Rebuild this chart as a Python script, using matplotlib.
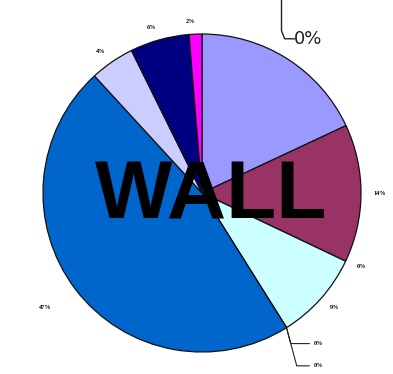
import numpy as np
import matplotlib.pyplot as plt

values = [18, 14, 0, 9, 0, 0, 47, 4.5, 6, 1.3]
labels = ['', '14%', '0%', '9%', '', '', '47%', '4%', '6%', '2%']
colors = ['#9999FF', '#993366', '#CCFFFF', '#CCFFFF', '#0066CC', '#0066CC',
          '#0066CC', '#CCCCFF', '#000080', '#FF00FF']
leader_labels = ['0%', '0%']
top_labels = ['0%', '0%']

fig = plt.figure(figsize=(3.93, 3.74), dpi=100)
W, H = 393, 374
cx, cy, r = 202, 193, 159
ax = fig.add_axes([(cx - r) / W, (H - cy - r) / H, 2 * r / W, 2 * r / H])

wedges, texts = ax.pie(values, labels=labels, colors=colors, startangle=90,
                       counterclock=False, labeldistance=1.08,
                       wedgeprops=dict(edgecolor='#111111', linewidth=0.9),
                       textprops=dict(fontsize=4.5, fontweight='bold',
                                      family='Liberation Serif'))
ax.set_xlim(-1, 1)
ax.set_ylim(-1, 1)
ax.set_aspect('auto')

# move 47% label a bit outward like the original
x47, y47 = texts[6].get_position()
texts[6].set_position((x47 * 1.1, y47 * 1.1))

# leader-line labels for the empty slices after the cyan one
ang = np.deg2rad(wedges[4].theta1)
px, py = np.cos(ang), np.sin(ang)
for i, lab in enumerate(leader_labels):
    ax.annotate(lab, xy=(px, py), xytext=(px + 0.17, py - 0.10 - 0.14 * i),
                fontsize=4.5, fontweight='bold', family='Liberation Serif',
                va='center', ha='left',
                arrowprops=dict(arrowstyle='-', color='#222222', lw=0.8,
                                shrinkA=1, shrinkB=0,
                                connectionstyle='angle,angleA=180,angleB=-75,rad=0'))

# cut-off labels at the top right
ax.text(0.58, 0.97, top_labels[0], fontsize=13, va='center', ha='left',
        color='#222222', family='DejaVu Sans')
ax.text(0.58, 1.26, top_labels[1], fontsize=13, va='center', ha='left',
        color='#222222', family='DejaVu Sans')
ax.plot([0.5, 0.5, 0.52, 0.58], [1.3, 1.02, 0.97, 0.97], color='#222222',
        lw=1.0, clip_on=False)

ax.text(0.06, -0.03, 'WALL', fontsize=59, fontweight='bold', ha='center',
        va='center', family='Liberation Sans', color='black')

fig.savefig('out.png', dpi=100)
